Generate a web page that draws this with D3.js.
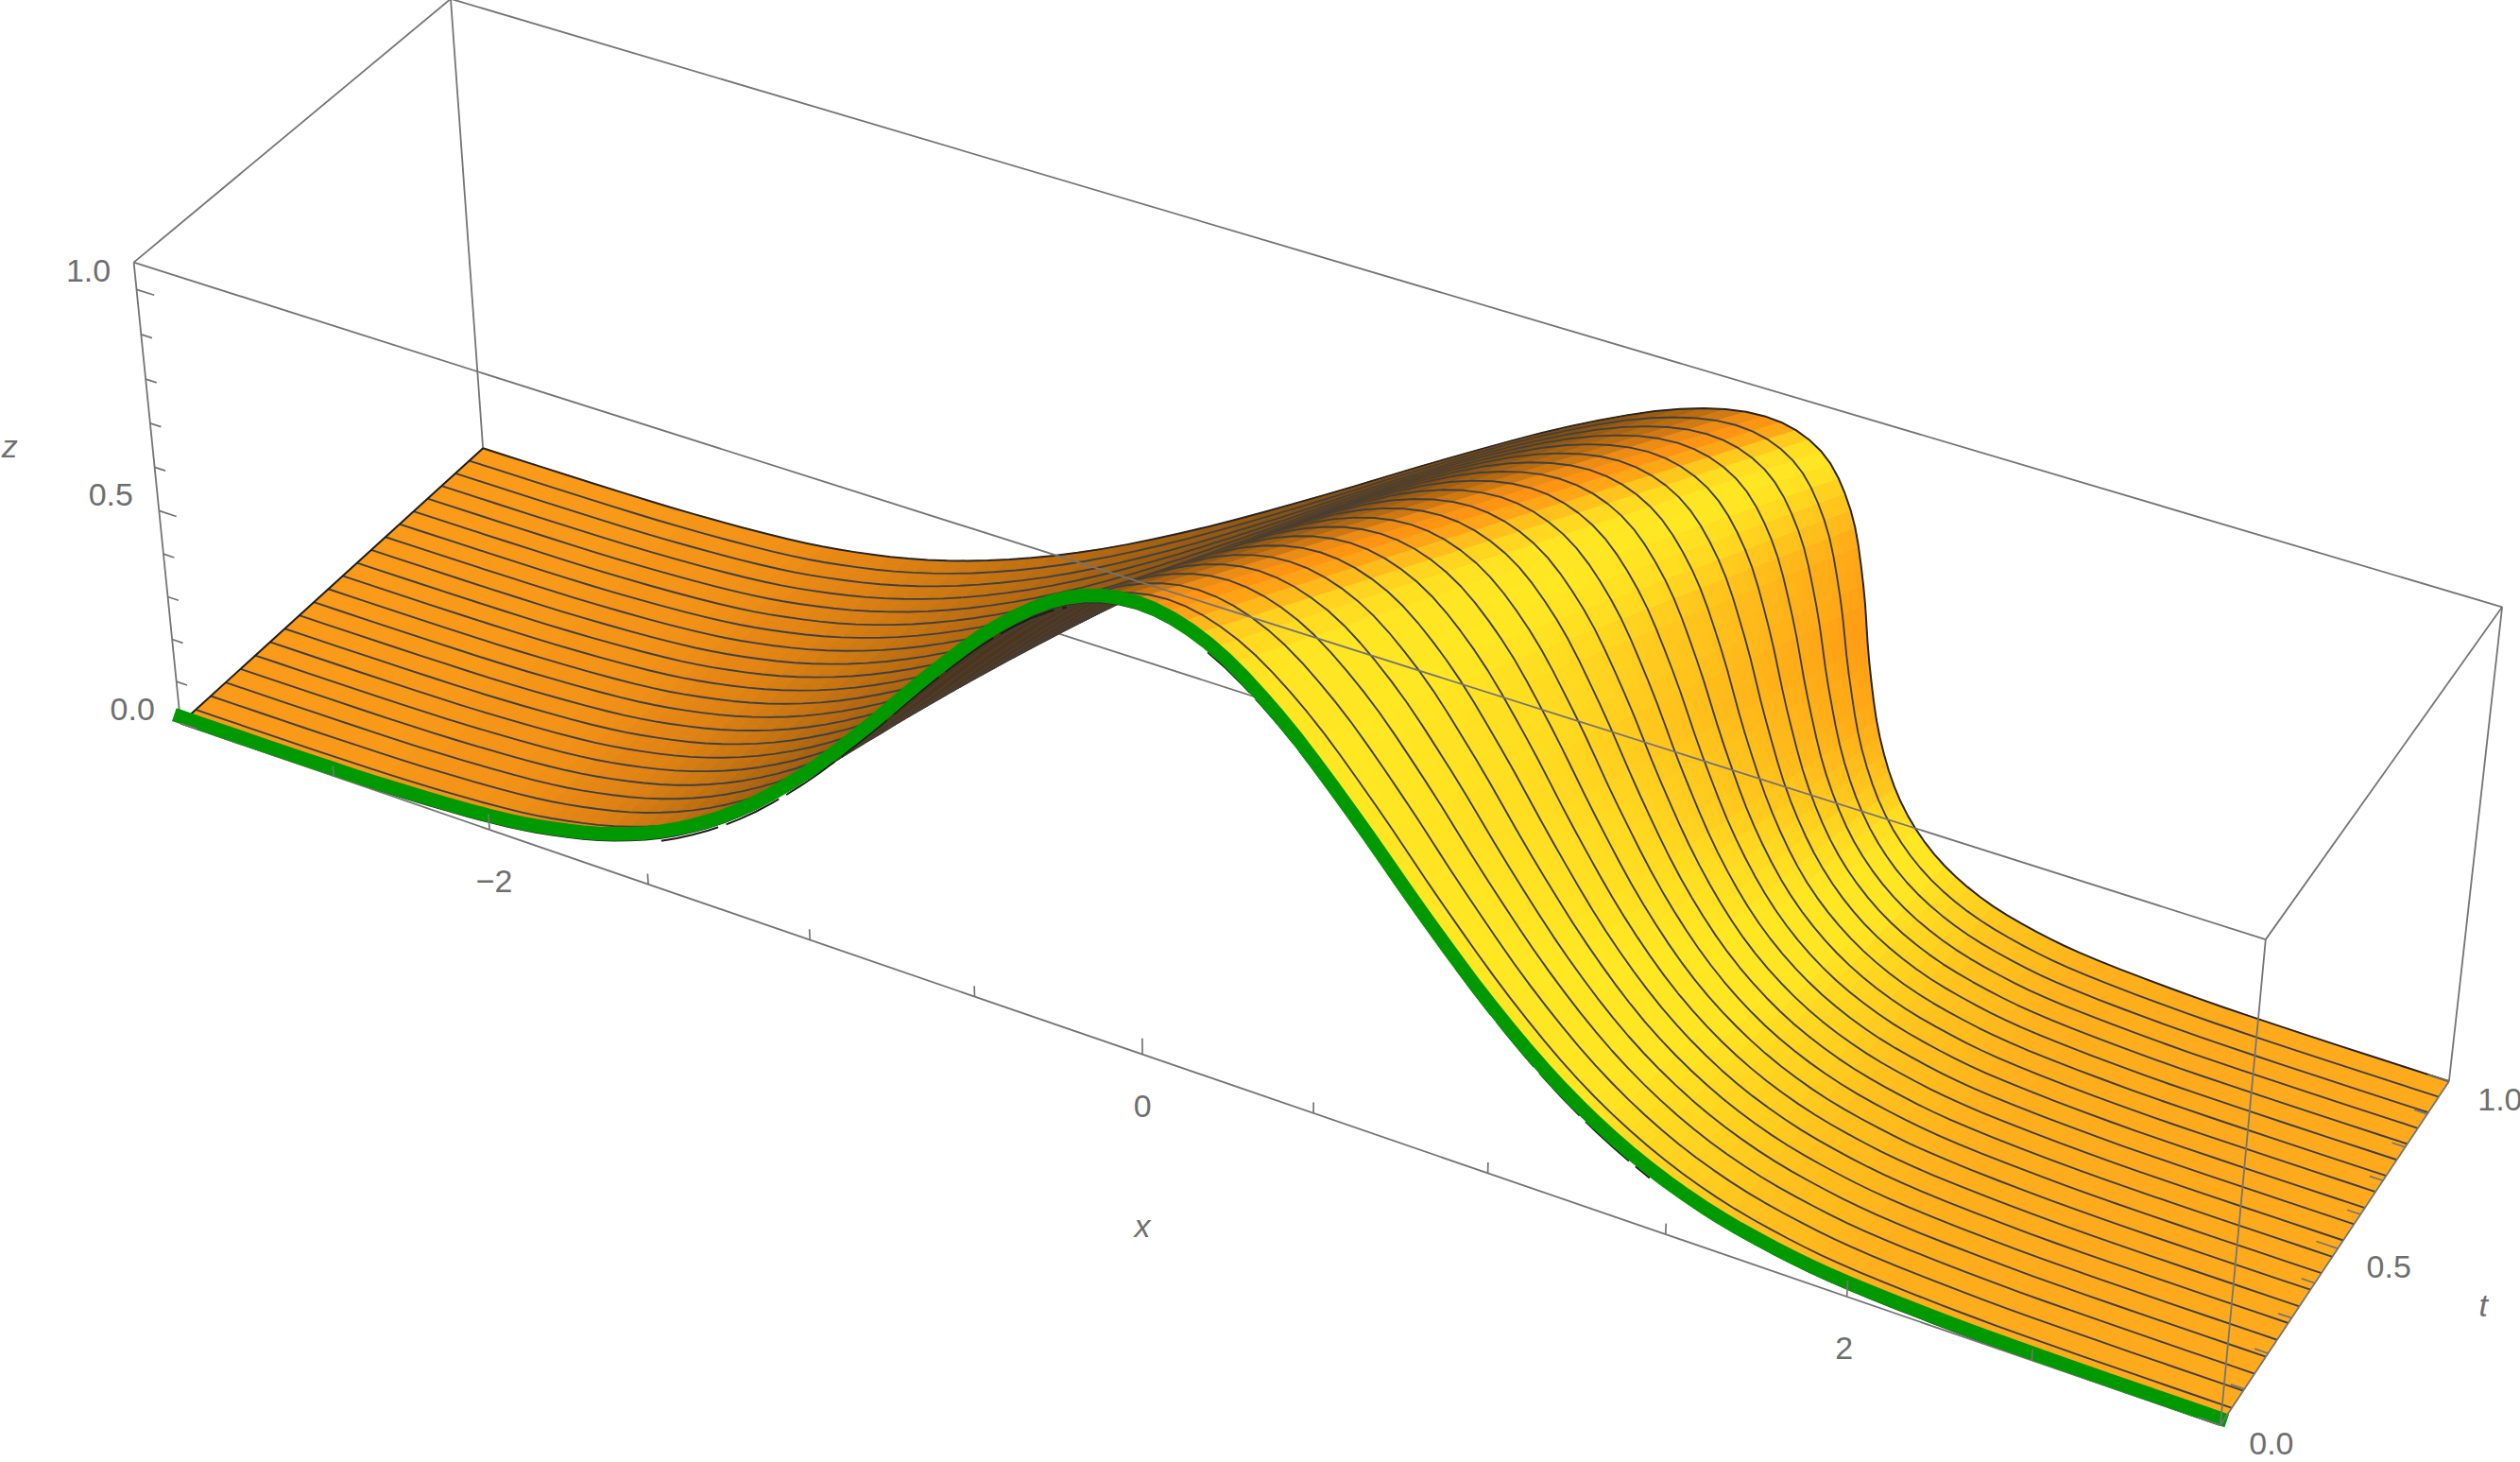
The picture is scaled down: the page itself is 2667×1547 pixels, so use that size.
<!DOCTYPE html>
<html><head><meta charset="utf-8">
<script src="https://cdn.jsdelivr.net/npm/d3@7"></script>
<style>html,body{margin:0;padding:0;background:#fff}svg{display:block}text{font-family:"Liberation Sans",Arial,sans-serif;font-size:34px;fill:#6e6e6e}</style>
</head><body><div id="chart"></div>
<script>
const xTickValues=[-3,-2.5,-2,-1.5,-1,-0.5,0,0.5,1,1.5,2,2.5,3];
const xMajor=[-2,0,2];
const xLabels=["\u22122","0","2"];
const zTickValues=[0,0.1,0.2,0.3,0.4,0.5,0.6,0.7,0.8,0.9,1];
const zMajor=[0,0.5,1];
const zLabels=["0.0","0.5","1.0"];
const tTickValues=[0,0.1,0.2,0.3,0.4,0.5,0.6,0.7,0.8,0.9,1];
const tMajor=[0,0.5,1];
const tLabels=["0.0","0.5","1.0"];
const meshCount=21;
// heights shared by all mesh lines, left to right
const zLevels=[0,.001,.005,.018,.039,.077,.141,.237,.368,.527,.698,.852,.961,1,.961,.852,.698,.527,.368,.237,.141,.077,.039,.018,.005,.001,0];
// x position of each height, one row per mesh line from t=0 to t=1
const xRows=[
[-3,-2.6,-2.3,-2,-1.8,-1.6,-1.4,-1.2,-1,-.8,-.6,-.4,-.2,0,.2,.4,.6,.8,1,1.2,1.4,1.6,1.8,2,2.3,2.6,3],
[-3,-2.6,-2.3,-1.999,-1.798,-1.596,-1.393,-1.189,-.982,-.775,-.567,-.359,-.154,.048,.246,.441,.633,.825,1.018,1.211,1.407,1.604,1.802,2.001,2.3,2.6,3],
[-3,-2.6,-2.3,-1.998,-1.796,-1.593,-1.387,-1.177,-.965,-.75,-.534,-.319,-.108,.095,.292,.481,.666,.85,1.035,1.223,1.413,1.607,1.804,2.002,2.3,2.6,3],
[-3,-2.6,-2.299,-1.997,-1.794,-1.589,-1.38,-1.166,-.947,-.725,-.5,-.278,-.063,.143,.337,.522,.7,.875,1.053,1.234,1.42,1.611,1.806,2.003,2.301,2.6,3],
[-3,-2.6,-2.299,-1.997,-1.793,-1.585,-1.373,-1.155,-.93,-.7,-.467,-.238,-.017,.19,.383,.562,.733,.9,1.07,1.245,1.427,1.615,1.807,2.003,2.301,2.6,3],
[-3,-2.6,-2.299,-1.996,-1.791,-1.582,-1.366,-1.144,-.912,-.675,-.434,-.197,.029,.238,.429,.603,.766,.925,1.088,1.256,1.434,1.618,1.809,2.004,2.301,2.6,3],
[-3,-2.6,-2.299,-1.995,-1.789,-1.578,-1.36,-1.132,-.895,-.649,-.401,-.157,.075,.286,.475,.643,.799,.951,1.105,1.268,1.44,1.622,1.811,2.005,2.301,2.6,3],
[-3,-2.6,-2.298,-1.994,-1.787,-1.574,-1.353,-1.121,-.877,-.624,-.367,-.116,.12,.333,.52,.684,.833,.976,1.123,1.279,1.447,1.626,1.813,2.006,2.302,2.6,3],
[-3,-2.6,-2.298,-1.993,-1.785,-1.571,-1.346,-1.11,-.86,-.599,-.334,-.075,.166,.381,.566,.725,.866,1.001,1.14,1.29,1.454,1.629,1.815,2.007,2.302,2.6,3],
[-3,-2.6,-2.298,-1.992,-1.783,-1.567,-1.34,-1.098,-.842,-.574,-.301,-.035,.212,.429,.612,.765,.899,1.026,1.158,1.302,1.46,1.633,1.817,2.008,2.302,2.6,3],
[-3,-2.6,-2.298,-1.991,-1.781,-1.563,-1.333,-1.087,-.825,-.549,-.268,.006,.258,.476,.658,.806,.932,1.051,1.175,1.313,1.467,1.637,1.819,2.009,2.302,2.6,3],
[-3,-2.6,-2.297,-1.991,-1.78,-1.56,-1.326,-1.076,-.807,-.524,-.234,.046,.303,.524,.703,.846,.966,1.076,1.193,1.324,1.474,1.64,1.82,2.009,2.303,2.6,3],
[-3,-2.6,-2.297,-1.99,-1.778,-1.556,-1.319,-1.065,-.79,-.499,-.201,.087,.349,.571,.749,.887,.999,1.101,1.21,1.335,1.481,1.644,1.822,2.01,2.303,2.6,3],
[-3,-2.6,-2.297,-1.989,-1.776,-1.552,-1.313,-1.053,-.772,-.474,-.168,.127,.395,.619,.795,.927,1.032,1.126,1.228,1.347,1.487,1.648,1.824,2.011,2.303,2.6,3],
[-3,-2.6,-2.297,-1.988,-1.774,-1.549,-1.306,-1.042,-.755,-.449,-.135,.168,.441,.667,.841,.968,1.065,1.151,1.245,1.358,1.494,1.651,1.826,2.012,2.303,2.6,3],
[-3,-2.6,-2.296,-1.987,-1.772,-1.545,-1.299,-1.031,-.737,-.424,-.101,.209,.486,.714,.886,1.009,1.099,1.176,1.263,1.369,1.501,1.655,1.828,2.013,2.304,2.6,3],
[-3,-2.6,-2.296,-1.986,-1.77,-1.541,-1.293,-1.019,-.72,-.398,-.068,.249,.532,.762,.932,1.049,1.132,1.202,1.28,1.381,1.507,1.659,1.83,2.014,2.304,2.6,3],
[-3,-2.6,-2.296,-1.985,-1.768,-1.538,-1.286,-1.008,-.702,-.373,-.035,.29,.578,.81,.978,1.09,1.165,1.227,1.298,1.392,1.514,1.662,1.832,2.015,2.304,2.6,3],
[-3,-2.6,-2.296,-1.985,-1.767,-1.534,-1.279,-.997,-.685,-.348,-.002,.33,.624,.857,1.024,1.13,1.198,1.252,1.315,1.403,1.521,1.666,1.833,2.015,2.304,2.6,3],
[-3,-2.6,-2.295,-1.984,-1.765,-1.53,-1.273,-.985,-.667,-.323,.032,.371,.67,.905,1.07,1.171,1.232,1.277,1.333,1.415,1.527,1.67,1.835,2.016,2.305,2.6,3],
[-3,-2.6,-2.295,-1.983,-1.763,-1.527,-1.266,-.974,-.65,-.298,.065,.411,.715,.952,1.115,1.211,1.265,1.302,1.35,1.426,1.534,1.673,1.837,2.017,2.305,2.6,3],
[-3,-2.6,-2.295,-1.982,-1.761,-1.523,-1.259,-.963,-.632,-.273,.098,.452,.761,1,1.161,1.252,1.298,1.327,1.368,1.437,1.541,1.677,1.839,2.018,2.305,2.6,3]
];
const xRange=[-3,3], tRange=[0,1], zRange=[0,1.06];
// camera calibration: box corners as seen on the page
const cornerData=[
 [-3,0,0,191,765.7],[3,0,0,2350,1508],[-3,1,0,511.4,474],[3,1,0,2591.7,1144.3],
 [-3,0,1.06,141.8,277.5],[3,0,1.06,2397.7,994],[-3,1,1.06,476.7,-1],[3,1,1.06,2648.3,642.3]];

const W=2667,H=1547;
const nx=d3.scaleLinear(xRange,[-1,1]), nt=d3.scaleLinear(tRange,[-1,1]), nz=d3.scaleLinear(zRange,[-1,1]);

function solve(A,b){const n=b.length;const M=A.map((r,i)=>[...r,b[i]]);
 for(let c=0;c<n;c++){let p=c;for(let r=c+1;r<n;r++)if(Math.abs(M[r][c])>Math.abs(M[p][c]))p=r;
  [M[c],M[p]]=[M[p],M[c]];
  for(let r=0;r<n;r++){if(r===c)continue;const f=M[r][c]/M[c][c];if(f!==0)for(let k=c;k<=n;k++)M[r][k]-=f*M[c][k];}}
 return M.map((r,i)=>r[n]/r[i]);}
function fitCamera(){const rows=[],rhs=[];
 cornerData.forEach(([x,t,z,u,v])=>{const X=nx(x),Y=nt(t),Z=nz(z),U=u/1000,V=v/1000;
  rows.push([X,Y,Z,1,0,0,0,0,-U*X,-U*Y,-U*Z]);rhs.push(U);
  rows.push([0,0,0,0,X,Y,Z,1,-V*X,-V*Y,-V*Z]);rhs.push(V);});
 const n=11,A=d3.range(n).map(i=>d3.range(n).map(j=>d3.sum(rows,r=>r[i]*r[j]))),b=d3.range(n).map(i=>d3.sum(rows,(r,q)=>r[i]*rhs[q]));
 return solve(A,b);}
const P=fitCamera();
function project(x,t,z){const X=nx(x),Y=nt(t),Z=nz(z),w=P[8]*X+P[9]*Y+P[10]*Z+1;
 return {px:1000*(P[0]*X+P[1]*Y+P[2]*Z+P[3])/w,py:1000*(P[4]*X+P[5]*Y+P[6]*Z+P[7])/w,w};}
const pt=(x,t,z)=>{const p=project(x,t,z);return [p.px,p.py];};

// refine each mesh row for a smooth drawing
const stepsJ=4, stepsT=3;
function refine(a){const out=[];const n=a.length;
 for(let j=0;j<n-1;j++){const p0=a[Math.max(j-1,0)],p1=a[j],p2=a[j+1],p3=a[Math.min(j+2,n-1)];
  for(let s=0;s<stepsJ;s++){const u=s/stepsJ;
   out.push(0.5*(2*p1+(p2-p0)*u+(2*p0-5*p1+4*p2-p3)*u*u+(3*p1-p0-3*p2+p3)*u*u*u));}}
 out.push(a[n-1]);return out;}
const zFine=refine(zLevels).map(z=>Math.max(z,0));
const xFineRows=xRows.map(refine);
const fineRows=[];
for(let k=0;k<meshCount;k++){for(let s=0;s<stepsT;s++){const u=s/stepsT;
  fineRows.push({t:(k+u)/meshCount,xs:xFineRows[k].map((x,j)=>x+(xFineRows[k+1][j]-x)*u),mesh:s===0});}}
fineRows.push({t:1,xs:xFineRows[meshCount],mesh:true});

const baseColor=d3.scaleLinear([-3,3],["#FA9A18","#FFAA1C"]);
const leftColor=d3.scaleLinear([-0.5,0,0.15,0.35,0.6,0.85,1],["#4f3216","#5a3a18","#74460f","#96590f","#bd6e10","#e58614","#FA9A18"]);
const rightColor=d3.scaleLinear([0.12,0.3,0.55,0.85,1.2,1.6,2.2,3,5,10,20],["#FFB81C","#FFCE1E","#FFE522","#FFE722","#FFDB20","#FFC81D","#FFBA1A","#FFAE17","#FFA014","#FF9412","#EE8814"]).clamp(true);
const crestBlend=d3.scaleLinear([0.6,0.85],[0,1]).clamp(true), slopeBlend=d3.scaleLinear([0,0.35],[1,0]).clamp(true);
const area=q=>{let a=0;for(let i=0;i<q.length;i++){const p=q[i],n=q[(i+1)%q.length];a+=p[0]*n[1]-n[0]*p[1];}return a/2;};
function shade(xm,zm,s,f){
 if(s>=0){return f>=1?baseColor(xm):leftColor(Math.max(f,-0.5));}
 const m=-s;
 const c=m<0.12?d3.interpolateRgb(baseColor(xm),"#FFB81C")(m/0.12):rightColor(m);
 return d3.interpolateRgb(c,"#FF8E10")(crestBlend(zm)*slopeBlend(m));}

const svg=d3.select("#chart").append("svg").attr("width",W).attr("height",H).attr("viewBox",[0,0,W,H]);
const lineGen=d3.line();
const boxColor="#747474";
function edge(g,a,b,w){g.append("path").attr("d",lineGen([pt(...a),pt(...b)])).attr("fill","none").attr("stroke",boxColor).attr("stroke-width",w||1.8);}
const [x0,x1]=xRange,[t0,t1]=tRange,[z0,z1]=zRange;
const back=svg.append("g");
edge(back,[x0,t1,z0],[x0,t1,z1]);edge(back,[x0,t1,z0],[x1,t1,z0]);edge(back,[x0,t1,z1],[x1,t1,z1]);
edge(back,[x1,t1,z0],[x1,t1,z1]);edge(back,[x0,t0,z1],[x0,t1,z1]);edge(back,[x1,t0,z1],[x1,t1,z1]);
edge(back,[x0,t0,z0],[x0,t0,z1]);

// surface drawn strip by strip from the back
const surf=svg.append("g");
const rowPath=r=>lineGen(r.xs.map((x,j)=>pt(x,r.t,zFine[j])));
const meshStyle=(r)=>r.t===1||r.t===0?{c:"#262626",w:2}:{c:"#404040",w:1.9};
for(let r=fineRows.length-1;r>=1;r--){
 const far=fineRows[r],near=fineRows[r-1];const strip=[];
 for(let j=0;j<zFine.length-1;j++){
  const q=[pt(near.xs[j],near.t,zFine[j]),pt(near.xs[j+1],near.t,zFine[j+1]),pt(far.xs[j+1],far.t,zFine[j+1]),pt(far.xs[j],far.t,zFine[j])];
  const q0=[pt(near.xs[j],near.t,0),pt(near.xs[j+1],near.t,0),pt(far.xs[j+1],far.t,0),pt(far.xs[j],far.t,0)];
  const dx=(near.xs[j+1]-near.xs[j]+far.xs[j+1]-far.xs[j])/2;
  const s=(zFine[j+1]-zFine[j])/dx, f=area(q)/area(q0);
  const xm=(near.xs[j]+near.xs[j+1]+far.xs[j]+far.xs[j+1])/4;
  const zm=(zFine[j]+zFine[j+1])/2;
  strip.push({q,fill:shade(xm,zm,s,f),w:Math.abs(project(xm,(near.t+far.t)/2,zm).w)});
 }
 strip.sort((a,b)=>d3.descending(a.w,b.w));
 surf.append("g").selectAll("path").data(strip).join("path")
  .attr("d",d=>lineGen(d.q)+"Z").attr("fill",d=>d.fill).attr("stroke",d=>d.fill).attr("stroke-width",0.9).attr("stroke-linejoin","round");
 if(far.mesh){const st=meshStyle(far);surf.append("path").attr("d",rowPath(far)).attr("fill","none").attr("stroke",st.c).attr("stroke-width",st.w).attr("stroke-linejoin","round");}
}
const st0=meshStyle(fineRows[0]);
surf.append("path").attr("d",rowPath(fineRows[0])).attr("fill","none").attr("stroke",st0.c).attr("stroke-width",st0.w);
// side boundary of the surface
surf.append("path").attr("d",lineGen([pt(x0,t0,z0),pt(x0,t1,z0)])).attr("fill","none").attr("stroke","#1c1c1c").attr("stroke-width",2);

// front of the box
const front=svg.append("g");
edge(front,[x0,t0,z0],[x1,t0,z0]);
// dark fringe of the t = 0 mesh line under the thick curve, on the slopes only
const row0=fineRows[0];
const fringe=d3.line().defined(d=>d.steep);
const fringePts=row0.xs.map((x,j)=>{const a=Math.max(j-1,0),b=Math.min(j+1,row0.xs.length-1);
 const p=pt(x,row0.t,zFine[j]);p.steep=Math.abs((zFine[b]-zFine[a])/(row0.xs[b]-row0.xs[a]))>0.32;return p;});
front.append("path").attr("d",fringe(fringePts)).attr("fill","none").attr("stroke","#1c1c1c").attr("stroke-width",2).attr("stroke-dasharray","62 9").attr("transform","translate(0,3)");
// t = 0 curve
front.append("path").attr("d",rowPath(row0)).attr("fill","none").attr("stroke","#009a00").attr("stroke-width",14.5).attr("stroke-linecap","square").attr("stroke-linejoin","round").attr("transform","translate(0,-7)");
edge(front,[x1,t0,z0],[x1,t1,z0]);
edge(front,[x1,t0,z0],[x1,t0,z1]);edge(front,[x0,t0,z1],[x1,t0,z1]);

// ticks
const tickW=1.7;
xTickValues.slice(1,-1).forEach(v=>edge(front,[v,t0,z0],[v,t0,z0+(xMajor.includes(v)?0.037:0.025)],tickW));
zTickValues.forEach(v=>edge(front,[x0,t0,v],[x0+(zMajor.includes(v)?0.056:0.035),t0,v],tickW));
tTickValues.forEach(v=>edge(front,[x1,v,z0],[x1-(tMajor.includes(v)?0.058:0.036),v,z0],tickW));

// labels
const label=(p,dx,dy,s,it)=>svg.append("text").attr("x",p[0]+dx).attr("y",p[1]+dy).attr("text-anchor","middle").attr("dominant-baseline","central").attr("font-style",it?"italic":null).text(s);
xMajor.forEach((v,i)=>label(pt(v,t0,z0),-v*1.5+(v<0?2:0),54,xLabels[i]));
zMajor.forEach((v,i)=>label(pt(x0,t0,v),-51,-15-5*v,zLabels[i]));
tMajor.forEach((v,i)=>label(pt(x1,v,z0),54,19,tLabels[i]));
label(pt(0,t0,z0),0,181,"x",true);
label(pt(x1,0.5,z0),154,60,"t",true);
label(pt(x0,t0,0.5),-158,-68,"z",true);
</script></body></html>
